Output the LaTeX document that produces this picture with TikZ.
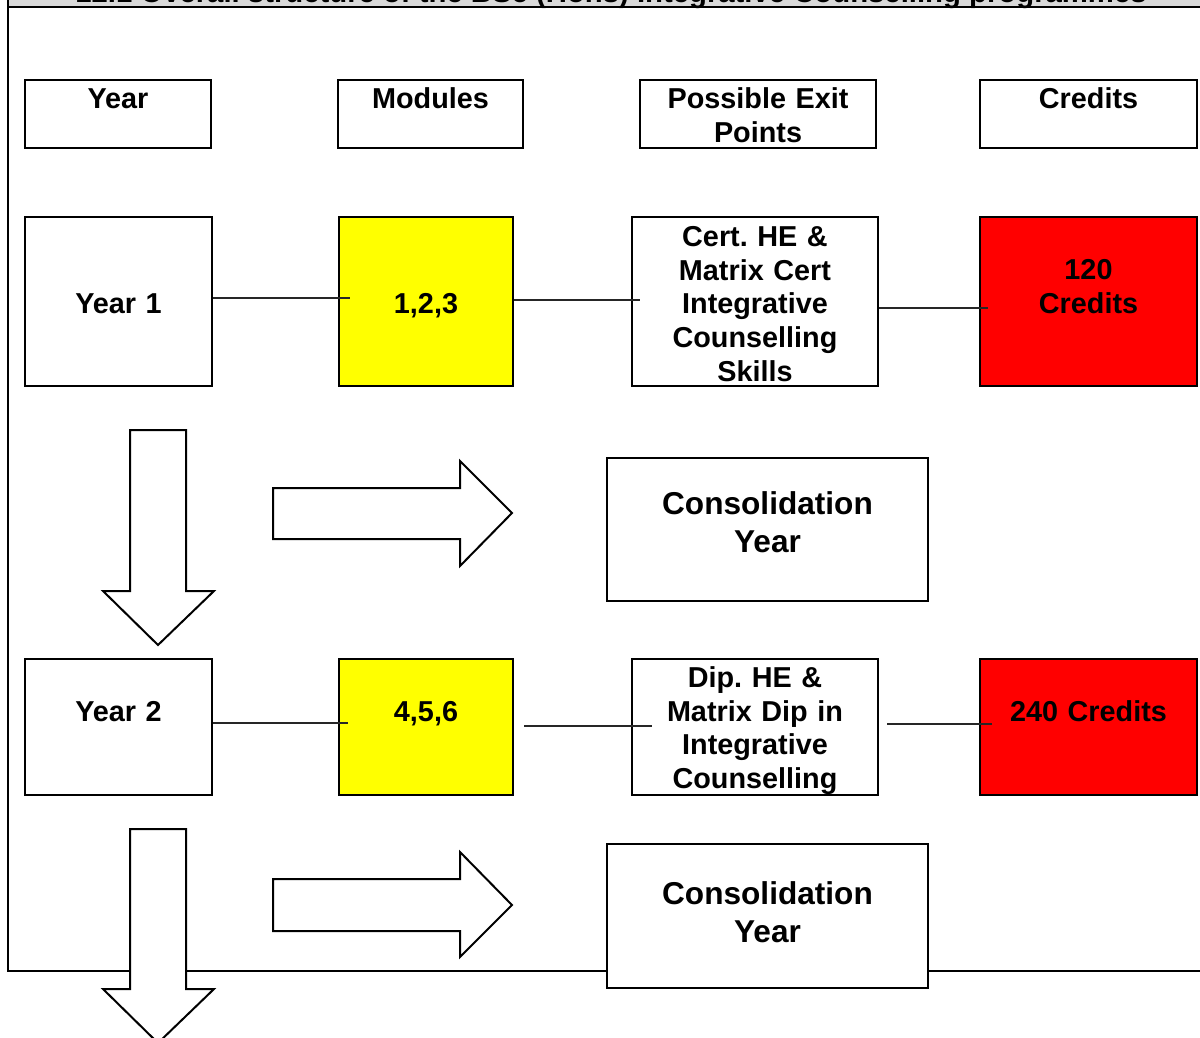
\documentclass[tikz,border=0pt]{standalone}
\usepackage{fontspec}
\setmainfont{Liberation Sans}
\definecolor{bandgray}{HTML}{D9D9D9}
\definecolor{boxyellow}{HTML}{FFFF00}
\definecolor{boxred}{HTML}{FF0000}
\begin{document}
\frenchspacing
\begin{tikzpicture}[x=1pt,y=-1pt,
  box/.style={draw=black, line width=2pt, rectangle, inner sep=0pt, align=center,
    anchor=north west, font=\fontsize{28.8}{33.7}\selectfont\bfseries\frenchspacing},
  bigbox/.style={box, font=\fontsize{31.6}{38}\selectfont\bfseries},
  conn/.style={draw=black!85, line width=1.2pt},
  blockarrow/.style={draw=black, line width=2pt, fill=white, line join=miter}]
\clip (0,0) rectangle (1200,1037);
\fill[white] (0,0) rectangle (1200,1037);
% frame and title band
\fill[bandgray] (8,0) rectangle (1200,7);
\node[anchor=base, inner sep=0pt, font=\fontsize{29.3}{34}\selectfont\bfseries] (title) at (611,2.5)
  {12.1 Overall structure of the BSc (Hons) Integrative Counselling programmes};
\draw[line width=2pt] (8,0) -- (8,970.5) -- (1200,970.5);
\draw[line width=2pt] (8,7) -- (1200,7);
% header row
\node[box, text width=186pt, text height=28.3pt, text depth=39.7pt] (hyear) at (24,79) {Year};
\node[box, text width=185pt, text height=28.3pt, text depth=39.7pt] (hmod) at (337,79) {Modules};
\node[box, text width=236pt, text height=28.3pt, text depth=39.7pt] (hexit) at (639,79) {Possible Exit\\Points};
\node[box, text width=217pt, text height=28.3pt, text depth=39.7pt] (hcred) at (979,79) {Credits};
% row 1
\node[box, text width=187pt, text height=96.3pt, text depth=72.7pt] (year1) at (24,216) {Year 1};
\node[box, fill=boxyellow, text width=174pt, text height=96.3pt, text depth=72.7pt] (mod1) at (338,216) {1,2,3};
\node[box, text width=246pt, text height=29.3pt, text depth=139.7pt] (cert) at (631,216)
  {Cert. HE \&\\Matrix Cert\\Integrative\\Counselling\\Skills};
\node[box, fill=boxred, text width=217pt, text height=62.3pt, text depth=106.7pt] (red1) at (979,216) {120\\Credits};
% consolidation 1
\node[bigbox, text width=321pt, text height=56.3pt, text depth=86.7pt] (cons1) at (606,457) {Consolidation\hspace*{8pt}\\Year\hspace*{8pt}};
% row 2
\node[box, text width=187pt, text height=62.3pt, text depth=73.7pt] (year2) at (24,658) {Year 2};
\node[box, fill=boxyellow, text width=174pt, text height=62.3pt, text depth=73.7pt] (mod2) at (338,658) {4,5,6};
\node[box, text width=246pt, text height=28.3pt, text depth=107.7pt] (dip) at (631,658)
  {Dip. HE \&\\Matrix Dip in\\Integrative\\Counselling};
\node[box, fill=boxred, text width=217pt, text height=62.3pt, text depth=73.7pt] (red2) at (979,658) {240 Credits};
% consolidation 2
\node[bigbox, fill=white, text width=321pt, text height=60.3pt, text depth=83.7pt] (cons2) at (606,843) {Consolidation\\Year};
% connectors
\draw[conn, shorten >=-12pt] ([yshift=3.5pt]year1.east) -- ([yshift=3.5pt]mod1.west);
\draw[conn, shorten >=-9pt] ([yshift=1.5pt]mod1.east) -- ([yshift=1.5pt]cert.west);
\draw[conn, shorten >=-9pt] ([yshift=-6.5pt]cert.east) -- ([yshift=-6.5pt]red1.west);
\draw[conn, shorten >=-10pt] ([yshift=4pt]year2.east) -- ([yshift=4pt]mod2.west);
\draw[conn, shorten <=10pt, shorten >=-21pt] ([yshift=1pt]mod2.east) -- ([yshift=1pt]dip.west);
\draw[conn, shorten <=8pt, shorten >=-13pt] ([yshift=3pt]dip.east) -- ([yshift=3pt]red2.west);
% block arrows
\draw[blockarrow] (130,430) -- (186,430) -- (186,591) -- (214,591) -- (158,645) -- (103,591) -- (130,591) -- cycle;
\draw[blockarrow] (273,488) -- (460,488) -- (460,461) -- (512,513) -- (460,566) -- (460,539) -- (273,539) -- cycle;
\draw[blockarrow] (130,829) -- (186,829) -- (186,989) -- (214,989) -- (158,1043) -- (103,989) -- (130,989) -- cycle;
\draw[blockarrow] (273,879) -- (460,879) -- (460,852) -- (512,905) -- (460,957) -- (460,931) -- (273,931) -- cycle;
\end{tikzpicture}
\end{document}
